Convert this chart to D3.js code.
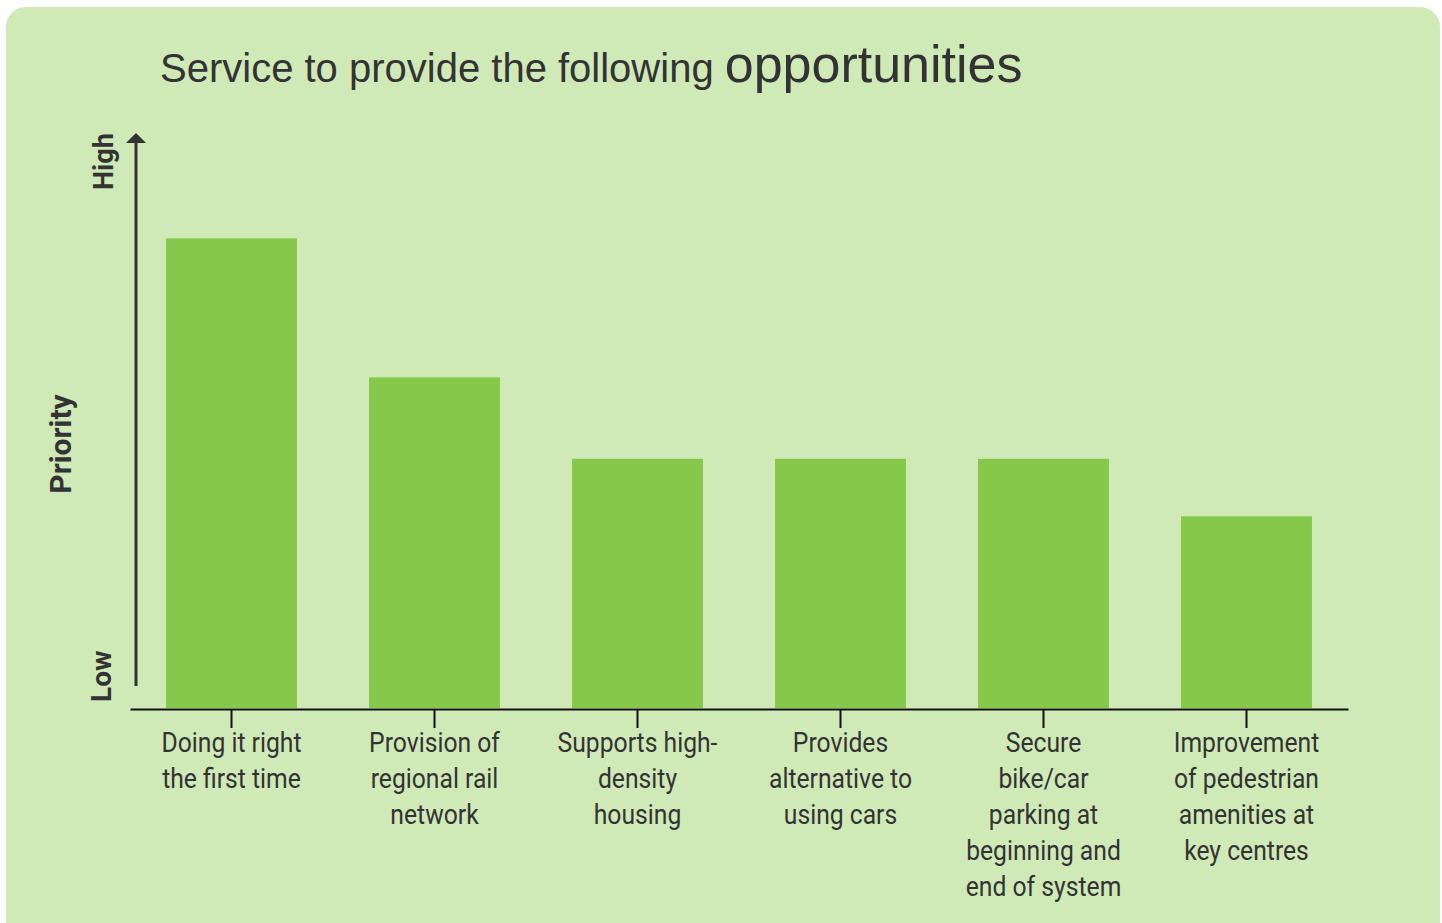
<!DOCTYPE html>
<html>
<head>
<meta charset="utf-8">
<script src="https://cdn.jsdelivr.net/npm/d3@7"></script>
<style>
  body { margin: 0; background: #fff; }
  svg { display: block; }
</style>
</head>
<body>
<svg></svg>
<script>
var width = 1442,
    height = 923;

// Chart data
var categories = [
    ['Doing it right', 'the first time'],
    ['Provision of', 'regional rail', 'network'],
    ['Supports high-', 'density', 'housing'],
    ['Provides', 'alternative to', 'using cars'],
    ['Secure', 'bike/car', 'parking at', 'beginning and', 'end of system'],
    ['Improvement', 'of pedestrian', 'amenities at', 'key centres']
];
var priority = [4.9, 3.45, 2.6, 2.6, 2.6, 2.0];
var priorityMax = 6;

var svg = d3.select('svg')
    .attr('width', width)
    .attr('height', height);

// Card background
svg.append('rect')
    .attr('x', 6)
    .attr('y', 7)
    .attr('width', 1434)
    .attr('height', 940)
    .attr('rx', 20)
    .style('fill', '#cfeab7');

// Title
var title = svg.append('text')
    .attr('x', 160)
    .attr('y', 82)
    .style('font-family', '"Liberation Sans", Arial, sans-serif')
    .style('fill', '#333');
title.append('tspan').style('font-size', '40px').text('Service to provide the following ');
title.append('tspan').style('font-size', '52px').text('opportunities');

var x = d3.scaleBand()
    .domain(d3.range(categories.length))
    .range([130, 1348])
    .paddingInner(0.355)
    .paddingOuter(0.1775);

var y = d3.scaleLinear()
    .domain([0, priorityMax])
    .range([708, 133]);

// Bars
svg.append('g').selectAll('rect')
    .data(priority)
    .enter().append('rect')
    .attr('x', function(d, i) { return x(i); })
    .attr('y', function(d) { return y(d); })
    .attr('width', x.bandwidth())
    .attr('height', function(d) { return y(0) - y(d); })
    .style('fill', '#86c94a');

// X axis
var xAxis = svg.append('g')
    .attr('transform', 'translate(0,709)')
    .call(d3.axisBottom(x).tickSize(19).tickSizeOuter(0).tickFormat(''));
xAxis.select('.domain').attr('stroke', '#111').attr('stroke-width', 2);
xAxis.selectAll('.tick line').attr('stroke', '#111').attr('stroke-width', 2);

// Category labels (condensed look)
var labels = svg.append('g').selectAll('g')
    .data(categories)
    .enter().append('g')
    .attr('transform', function(d, i) {
        return 'translate(' + (x(i) + x.bandwidth() / 2) + ',752) scale(0.915,1)';
    });
labels.append('text')
    .attr('text-anchor', 'middle')
    .style('font-family', 'Roboto, sans-serif')
    .style('font-size', '27px')
    .style('fill', '#333')
    .selectAll('tspan')
    .data(function(d) { return d; })
    .enter().append('tspan')
    .attr('x', 0)
    .attr('y', function(d, i) { return i * 36; })
    .text(function(d) { return d; });

// Y arrow
svg.append('line')
    .attr('x1', 136).attr('x2', 136)
    .attr('y1', 686).attr('y2', 140)
    .attr('stroke', '#333')
    .attr('stroke-width', 3);
svg.append('path')
    .attr('d', 'M126,143 L136,133 L146,143 Z')
    .style('fill', '#333');

// Y labels
function yLabel(txt, tx, ty, anchor, size) {
    svg.append('text')
        .attr('transform', 'translate(' + tx + ',' + ty + ') rotate(-90)')
        .attr('text-anchor', anchor)
        .style('font-family', 'Roboto, sans-serif')
        .style('font-weight', 'bold')
        .style('font-size', size)
        .style('fill', '#333')
        .text(txt);
}
yLabel('High', 113, 190, 'start', '27px');
yLabel('Low', 111, 702, 'start', '28px');
yLabel('Priority', 71, 444, 'middle', '30px');
</script>
</body>
</html>
